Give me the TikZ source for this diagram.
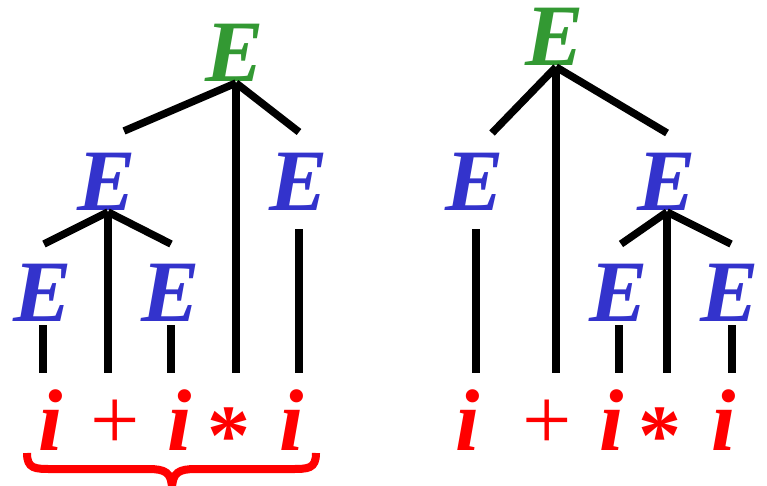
\documentclass[tikz,border=0pt]{standalone}
\usepackage{fontspec}
\setmainfont{Liberation Serif}
\definecolor{tgreen}{RGB}{51,153,51}
\definecolor{tblue}{RGB}{51,51,204}
\definecolor{tred}{RGB}{255,0,0}
\tikzset{
  sym/.style={inner sep=0pt, outer sep=0pt, anchor=base, font=\fontsize{87.6}{100}\selectfont\bfseries\itshape},
  rootsym/.style={sym, text=tgreen},
  ntsym/.style={sym, text=tblue},
  termsym/.style={sym, text=tred},
  opsym/.style={inner sep=0pt, outer sep=0pt, anchor=base, text=tred, font=\fontsize{87.6}{100}\selectfont},
  starsym/.style={opsym, font=\fontsize{86}{100}\selectfont\bfseries},
  edge/.style={line width=7.5pt, line cap=butt},
  bracestyle/.style={draw=tred, line width=8pt}
}
\begin{document}
\begin{tikzpicture}[x=1pt, y=-1pt]
\useasboundingbox (0,0) rectangle (767,485);

% ---------- left tree ----------
\node[rootsym] (gL) at (234.5,81) {E};
\node[ntsym] (e1) at (106.5,210) {E};
\node[ntsym] (e2) at (299,210) {E};
\node[ntsym] (e3) at (42.5,321) {E};
\node[ntsym] (e4) at (171,321) {E};

\node[termsym] (t1) at (51,450) {i};
\node[opsym]   (t2) at (115.5,449) {+};
\node[termsym] (t3) at (179.5,450) {i};
\node[starsym] (t4) at (228.5,464) {*};
\node[termsym] (t5) at (292,450) {i};

\coordinate (jL) at (236,83);
\coordinate (jLa) at (124,131);
\coordinate (jLb) at (236,373);
\coordinate (jLc) at (299,132);
\coordinate (j1) at (108,212);
\coordinate (j1a) at (44,244);
\coordinate (j1b) at (108,373);
\coordinate (j1c) at (171,244);
\coordinate (e2a) at (299,229);
\coordinate (e2b) at (299,373);
\coordinate (e3a) at (43,325);
\coordinate (e3b) at (43,373);
\coordinate (e4a) at (171,325);
\coordinate (e4b) at (171,373);

\draw[edge] (jL) -- (jLa);
\draw[edge] (jL) -- (jLb);
\draw[edge] (jL) -- (jLc);
\draw[edge] (j1) -- (j1a);
\draw[edge] (j1) -- (j1b);
\draw[edge] (j1) -- (j1c);
\draw[edge] (e2a) -- (e2b);
\draw[edge] (e3a) -- (e3b);
\draw[edge] (e4a) -- (e4b);

% brace
\coordinate (bl) at (27,453);
\coordinate (bm) at (172,490);
\coordinate (br) at (316,453);
\draw[bracestyle] (bl) .. controls (27,469) and (35,469) .. (52,469) -- (148,469)
  .. controls (165,469) and (172,472) .. (bm)
  .. controls (172,472) and (179,469) .. (196,469) -- (291,469)
  .. controls (308,469) and (316,469) .. (br);

% ---------- right tree ----------
\node[rootsym] (gR) at (555,65) {E};
\node[ntsym] (e5) at (474.5,210) {E};
\node[ntsym] (e6) at (666.5,210) {E};
\node[ntsym] (e7) at (618.5,321) {E};
\node[ntsym] (e8) at (730,321) {E};

\node[termsym] (u1) at (468,450) {i};
\node[opsym]   (u2) at (547.5,449) {+};
\node[termsym] (u3) at (611.5,450) {i};
\node[starsym] (u4) at (660,464) {*};
\node[termsym] (u5) at (724,450) {i};

\coordinate (jR) at (556,67);
\coordinate (jRa) at (492,133);
\coordinate (jRb) at (556,373);
\coordinate (jRc) at (667,133);
\coordinate (j6) at (667,212);
\coordinate (j6a) at (621,244);
\coordinate (j6b) at (667,373);
\coordinate (j6c) at (731,244);
\coordinate (e5a) at (476,229);
\coordinate (e5b) at (476,373);
\coordinate (e7a) at (619,325);
\coordinate (e7b) at (619,373);
\coordinate (e8a) at (732,325);
\coordinate (e8b) at (732,373);

\draw[edge] (jR) -- (jRa);
\draw[edge] (jR) -- (jRb);
\draw[edge] (jR) -- (jRc);
\draw[edge] (j6) -- (j6a);
\draw[edge] (j6) -- (j6b);
\draw[edge] (j6) -- (j6c);
\draw[edge] (e5a) -- (e5b);
\draw[edge] (e7a) -- (e7b);
\draw[edge] (e8a) -- (e8b);
\end{tikzpicture}
\end{document}
